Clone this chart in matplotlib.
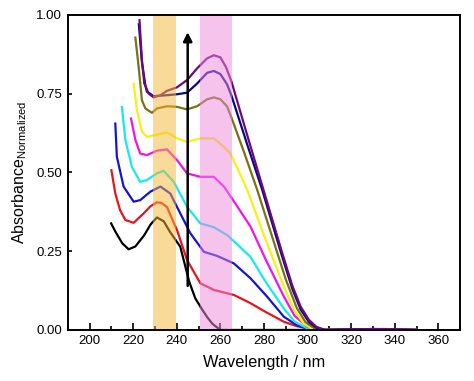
import numpy as np
import matplotlib.pyplot as plt

plt.rcParams['font.family'] = ['Liberation Sans', 'DejaVu Sans']

# spectra (wavelength nm, normalized absorbance)
wl_black = [209.9, 212, 215, 217.9, 221, 225, 228, 230.9, 234, 237, 241.6, 245.7, 248.5, 251.8, 254, 256.4, 260, 270, 290, 310, 330, 350]
ab_black = [0.338, 0.31, 0.275, 0.256, 0.265, 0.3, 0.335, 0.357, 0.345, 0.31, 0.264, 0.153, 0.1, 0.063, 0.04, 0.019, 0.0, 0.0, 0.0, 0.0, 0.002, 0.0]

wl_red = [210, 211.8, 214, 216.4, 220.2, 224.8, 228, 230.9, 233, 235.5, 240.1, 244.7, 250.8, 257, 266.2, 273.8, 280, 289.1, 295, 301.4, 310, 330, 350]
ab_red = [0.507, 0.433, 0.38, 0.349, 0.34, 0.37, 0.393, 0.405, 0.403, 0.39, 0.317, 0.222, 0.148, 0.127, 0.111, 0.085, 0.06, 0.026, 0.012, 0.003, 0.0, 0.0, 0.0]

wl_blue = [211.8, 212.5, 215.6, 220.2, 223.2, 227.9, 232.5, 237, 241.6, 246.2, 252.4, 258.5, 266.2, 273.8, 281.5, 289.1, 295, 300, 305, 315, 330, 350]
ab_blue = [0.655, 0.55, 0.455, 0.407, 0.412, 0.439, 0.455, 0.433, 0.37, 0.307, 0.248, 0.235, 0.211, 0.164, 0.105, 0.042, 0.015, 0.004, 0.0, 0.0, 0.002, 0.0]

wl_cyan = [214.8, 216.4, 219.4, 223.2, 226.3, 230.9, 234, 238.6, 244.7, 250.8, 257, 263.1, 268, 273.8, 281, 289.1, 294, 299.9, 306, 330, 350]
ab_cyan = [0.708, 0.603, 0.518, 0.47, 0.476, 0.497, 0.505, 0.47, 0.391, 0.338, 0.326, 0.301, 0.27, 0.232, 0.15, 0.068, 0.027, 0.005, 0.0, 0.0, 0.0]

wl_magenta = [219, 221, 223.2, 226.3, 230.9, 235.5, 240.1, 244.7, 250.8, 257, 261.6, 267, 273.8, 281, 289.1, 294, 299.9, 306, 330, 350]
ab_magenta = [0.671, 0.603, 0.56, 0.555, 0.569, 0.573, 0.539, 0.497, 0.486, 0.486, 0.455, 0.4, 0.328, 0.22, 0.106, 0.045, 0.01, 0.0, 0.002, 0.0]

wl_yellow = [220.2, 221.7, 224, 226.3, 230.9, 235.5, 240.1, 244.7, 250.8, 257, 261.6, 264.6, 268, 272.3, 280, 289.1, 294, 298.4, 303, 315, 330, 350]
ab_yellow = [0.782, 0.698, 0.629, 0.613, 0.62, 0.627, 0.608, 0.597, 0.608, 0.608, 0.581, 0.56, 0.51, 0.444, 0.3, 0.137, 0.06, 0.019, 0.0, 0.0, 0.002, 0.0]

wl_olive = [221, 222.5, 224, 225.6, 228.6, 230.9, 235.5, 240.1, 244.7, 249.3, 253.9, 257, 260, 263, 265, 270.8, 276.9, 284, 290, 295, 299, 303, 308, 330, 350]
ab_olive = [0.928, 0.835, 0.729, 0.703, 0.689, 0.703, 0.71, 0.708, 0.7, 0.71, 0.732, 0.738, 0.732, 0.71, 0.675, 0.565, 0.444, 0.29, 0.16, 0.07, 0.025, 0.006, 0.0, 0.003, 0.0]

wl_navy = [222.6, 224, 225.5, 226.3, 229.4, 235.5, 240.1, 244.7, 249.3, 253.9, 257, 260, 263, 265, 272, 279.2, 288, 293, 296.8, 300.6, 304, 308, 330, 350]
ab_navy = [0.97, 0.85, 0.78, 0.756, 0.742, 0.745, 0.748, 0.753, 0.782, 0.816, 0.822, 0.812, 0.78, 0.745, 0.595, 0.444, 0.24, 0.13, 0.065, 0.025, 0.007, 0.0, 0.003, 0.0]

wl_purple = [222.9, 224, 225.1, 227.1, 229.4, 232.5, 235.5, 240.1, 244.7, 249.3, 253.9, 257, 260, 262.5, 265, 272, 278.4, 288.4, 293, 296.8, 300.6, 304, 308, 320, 335, 350]
ab_purple = [0.983, 0.856, 0.782, 0.75, 0.738, 0.745, 0.759, 0.77, 0.793, 0.83, 0.862, 0.872, 0.865, 0.835, 0.79, 0.625, 0.476, 0.243, 0.14, 0.074, 0.032, 0.01, 0.0, 0.002, 0.003, 0.0]

series = [
    (wl_black, ab_black, 'black'),
    (wl_red, ab_red, '#e8141c'),
    (wl_blue, ab_blue, '#1414d2'),
    (wl_cyan, ab_cyan, '#18e8f0'),
    (wl_magenta, ab_magenta, '#f014e8'),
    (wl_yellow, ab_yellow, '#f8f014'),
    (wl_olive, ab_olive, '#7a7214'),
    (wl_navy, ab_navy, '#0a0a80'),
    (wl_purple, ab_purple, '#6e0a78'),
]

bands = [(229, 239.6, '#f7b733'), (250.5, 265.5, '#ee88dd')]

fig = plt.figure(figsize=(4.74, 3.81), dpi=100)
ax = fig.add_axes([0.143, 0.134, 0.828, 0.827])

for wl, ab, c in series:
    ax.plot(wl, ab, color=c, lw=1.6, zorder=2)

# shaded bands sit on top of the spectra
for x0, x1, c in bands:
    ax.axvspan(x0, x1, color=c, alpha=0.5, lw=0, zorder=3)

ax.annotate('', xy=(245, 0.945), xytext=(245, 0.14),
            arrowprops=dict(arrowstyle='-|>', color='black', lw=1.8,
                            mutation_scale=13, shrinkA=0, shrinkB=0),
            zorder=4)

ax.set_xlim(190, 370)
ax.set_ylim(0, 1.0)
ax.set_xticks(np.arange(200, 361, 20))
ax.set_xticks(np.arange(190, 371, 10), minor=True)
ax.set_yticks([0, 0.25, 0.5, 0.75, 1.0])
ax.set_yticklabels(['0.00', '0.25', '0.50', '0.75', '1.00'])
ax.tick_params(which='both', direction='in', labelsize=9.5, width=1.2)
ax.tick_params(which='major', length=5)
ax.tick_params(which='minor', length=3)
ax.tick_params(axis='y', length=3, pad=4)
for s in ax.spines.values():
    s.set_linewidth(1.4)
    s.set_zorder(5)

ax.set_xlabel('Wavelength / nm', fontsize=11.8, labelpad=6)
ax.set_ylabel('Absorbance$_{\\mathregular{Normalized}}$', fontsize=11.5, labelpad=5)

fig.savefig('out.png', dpi=100)
